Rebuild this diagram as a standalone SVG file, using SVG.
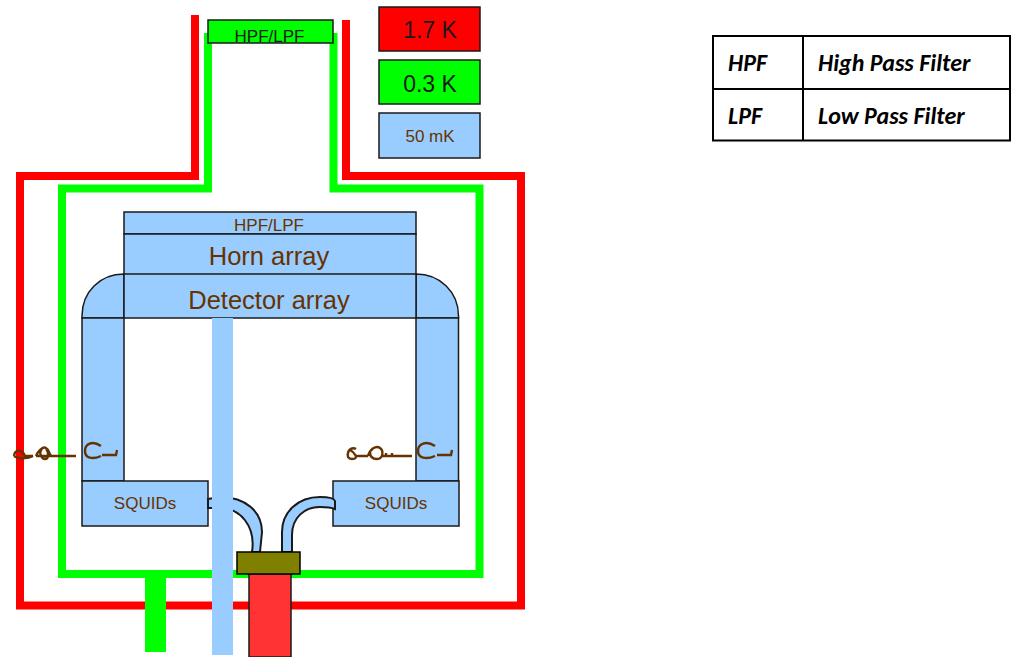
<svg xmlns="http://www.w3.org/2000/svg" width="1011" height="657" viewBox="0 0 1011 657">
<defs><clipPath id="topclip"><rect x="208" y="20" width="125" height="23"/></clipPath></defs>
<style>
.sh{fill:none;stroke-linecap:butt;stroke-linejoin:miter}
.r{stroke:#ff0000;stroke-width:8}
.g{stroke:#00ff00;stroke-width:8}
.b{fill:#99ccff;stroke:#1a1a1a;stroke-width:1.5}
.tube{fill:#99ccff;stroke:#1a1a1a;stroke-width:2}
.nb{fill:#99ccff}
text{font-family:"Liberation Sans",Arial,sans-serif;text-anchor:middle;fill:#663300}
.k{fill:#1a1a1a}
.t{font-family:"Carlito","Open Sans","Liberation Sans",sans-serif;font-weight:700;font-style:italic;font-size:24px;fill:#000;text-anchor:start}
.cell{fill:none;stroke:#000;stroke-width:2}
.wire{stroke:#663300;stroke-width:2.4;fill:none}
</style>
<g id="connectors">
<path class="sh r" d="M195 15V176H20V605.500H521V176H346V20"/>
<path class="sh g" d="M208 33V188.500H62V574H479.500V188.500H333.500V33"/>
<rect x="145" y="574" width="21" height="78" fill="#00ff00"/>
</g>
<g id="horn-filter"><rect class="b" x="124" y="212" width="292" height="22"/><text x="269" y="231" font-size="17">HPF/LPF</text></g>
<g id="horn-array"><rect class="b" x="124" y="234" width="292" height="41"/><text x="269" y="265" font-size="25.500">Horn array</text></g>
<g id="left-arm"><path class="b" d="M82 318V316C82 292 100 274 124 274V318Z"/><rect class="b" x="82" y="318" width="42" height="163"/></g>
<g id="right-arm"><path class="b" d="M458.500 318V316C458.500 292 440 274 416 274V318Z"/><rect class="b" x="416" y="318" width="42.500" height="163"/></g>
<g id="detector-array"><rect class="b" x="124" y="274" width="292" height="44"/><text x="269" y="309" font-size="25.500">Detector array</text></g>
<g id="squid-left"><rect class="b" x="82" y="481" width="126" height="45"/><text x="145" y="509" font-size="17">SQUIDs</text></g>
<g id="squid-right"><rect class="b" x="333" y="481" width="126" height="45"/><text x="396" y="509" font-size="17">SQUIDs</text></g>
<g id="tube-left"><path class="tube" d="M208 499L220 497C246 497 262 512 262 532L260 552H252C256 526 240 508 220 508L208 508Z"/></g>
<g id="tube-right"><path class="tube" d="M282 552V532C282 512 298 497 320 497C326 497 334 498 335 501V509C330 507 325 507 320 507C304 507 292 518 292 535V552Z"/></g>
<g id="feed-blue"><rect class="nb" x="212" y="318" width="21" height="337"/></g>
<g id="feed-red"><rect x="249" y="574" width="42" height="83" fill="#ff3333" stroke="#1a1a1a" stroke-width="1.5"/></g>
<g id="connector-block"><rect x="237" y="552" width="63" height="22" fill="#808000" stroke="#000" stroke-width="1.5"/></g>
<g id="top-filter"><rect x="208" y="20" width="125" height="23" fill="#00ff00" stroke="#1a1a1a" stroke-width="1.5"/><text class="k" x="269.500" y="42" font-size="17" clip-path="url(#topclip)">HPF/LPF</text></g>
<g id="legend-17"><rect x="379" y="7" width="101" height="44" fill="#ff0000" stroke="#1a1a1a" stroke-width="1.500"/><text class="k" x="430" y="38" font-size="23">1.7 K</text></g>
<g id="legend-03"><rect x="379" y="60" width="101" height="44" fill="#00ff00" stroke="#1a1a1a" stroke-width="1.500"/><text class="k" x="430" y="92" font-size="23">0.3 K</text></g>
<g id="legend-50"><rect class="b" x="379" y="113" width="101" height="45"/><text x="430" y="142" font-size="17">50 mK</text></g>
<g id="wires">
<path class="wire" d="M14 456C15 449 22 449 25 456H33M14 456C18 459 28 459 33 456M36 456C38 451 43 446 46 448C50 450 49 456 52 456H60M36 456H52M42 449C38 453 42 459 45 459C49 459 49 452 46 449M52 456H76"/>
<path class="wire" d="M101 446C92 440 85 444 85 451C85 458 92 460 101 456M102 455H116L117 450"/>
<path class="wire" d="M348 456C347 449 353 447 356 449M350 450C354 452 360 459 352 459C348 459 347 456 348 453M356 456H368M368 456C370 449 376 445 380 448C384 451 383 459 377 459C372 459 370 456 370 452M382 456H412M386 453V456M392 453V456"/>
<path class="wire" d="M435 446C426 440 418 444 418 451C418 458 426 460 435 456M437 455H451L452 450"/>
</g>
<g id="glossary">
<rect class="cell" x="713" y="36" width="297" height="104.500"/>
<path class="cell" d="M713 89H1010M803 36V140"/>
<text class="t" x="728" y="71">HPF</text><text class="t" x="818" y="71">High Pass Filter</text>
<text class="t" x="728" y="124">LPF</text><text class="t" x="818" y="124">Low Pass Filter</text>
</g>
</svg>
